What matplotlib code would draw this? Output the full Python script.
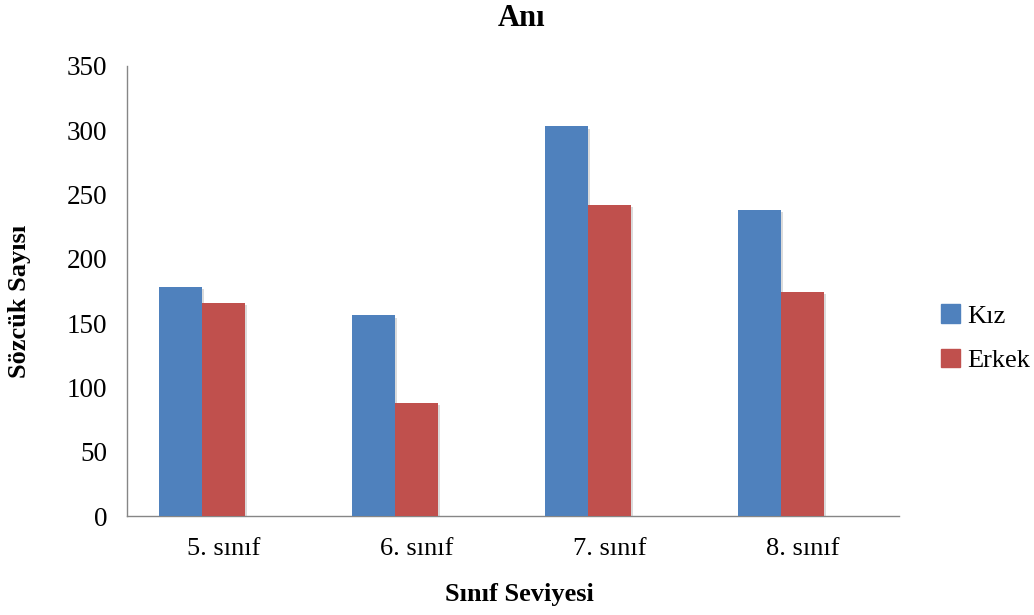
import matplotlib

matplotlib.use("Agg")
import matplotlib.pyplot as plt
import matplotlib.patheffects as pe
from matplotlib.patches import Patch
import numpy as np

# Veriler: sınıf seviyesine göre sözcük sayısı
siniflar = ["5. sınıf", "6. sınıf", "7. sınıf", "8. sınıf"]
kiz = [178, 156, 303, 238]
erkek = [166, 88, 242, 174]
y_ticks = [0, 50, 100, 150, 200, 250, 300, 350]

MAVI = "#4F81BD"
KIRMIZI = "#C0504D"
EKSEN = "#868686"

plt.rcParams.update({
    "font.family": ["Liberation Serif", "DejaVu Serif"],
    "font.size": 19,
})

fig = plt.figure(figsize=(10.34, 6.15), dpi=100)
ax = fig.add_axes([127 / 1034, 1 - 516 / 615, 772 / 1034, 450 / 615])

# Excel düzeni: üç seri yeri, %150 aralık; üçüncü seri boş
gen = 1 / 4.5
x = np.arange(len(siniflar))
golge = [pe.SimplePatchShadow(offset=(1.5, -1.5), shadow_rgbFace="#8a8a8a", alpha=0.3), pe.Normal()]
ax.bar(x - gen, kiz, width=gen, color=MAVI, path_effects=golge, zorder=3)
ax.bar(x, erkek, width=gen, color=KIRMIZI, path_effects=golge, zorder=3)

ax.set_xlim(-0.5, len(siniflar) - 0.5)
ax.set_ylim(0, 350)
ax.set_xticks(x)
ax.set_xticklabels(siniflar, fontsize=19)
ax.set_yticks(y_ticks)
ax.set_yticklabels([str(v) for v in y_ticks], fontsize=19.5)
ax.tick_params(length=0, pad=14)
ax.tick_params(axis="x", pad=16)

for s in ("top", "right"):
    ax.spines[s].set_visible(False)
for s in ("left", "bottom"):
    ax.spines[s].set_color(EKSEN)
    ax.spines[s].set_linewidth(1.0)

fig.text(522 / 1034, 1 - 19 / 615, "Anı", ha="center", va="center",
         fontsize=22, fontweight="bold")
fig.text(519 / 1034, 1 - 594 / 615, "Sınıf Seviyesi", ha="center", va="center",
         fontsize=19, fontweight="bold")
fig.text(20 / 1034, 1 - 301 / 615, "Sözcük Sayısı", ha="center", va="center",
         rotation=90, fontsize=19, fontweight="bold")

tutamaclar = [Patch(color=MAVI, label="Kız"), Patch(color=KIRMIZI, label="Erkek")]
ax.legend(handles=tutamaclar, loc="center left", bbox_to_anchor=(1.0, 0.395),
          frameon=False, fontsize=19, handlelength=0.7, handleheight=0.7,
          handletextpad=0.3, labelspacing=0.8, borderaxespad=1.2)

fig.savefig("out.png", dpi=100)
